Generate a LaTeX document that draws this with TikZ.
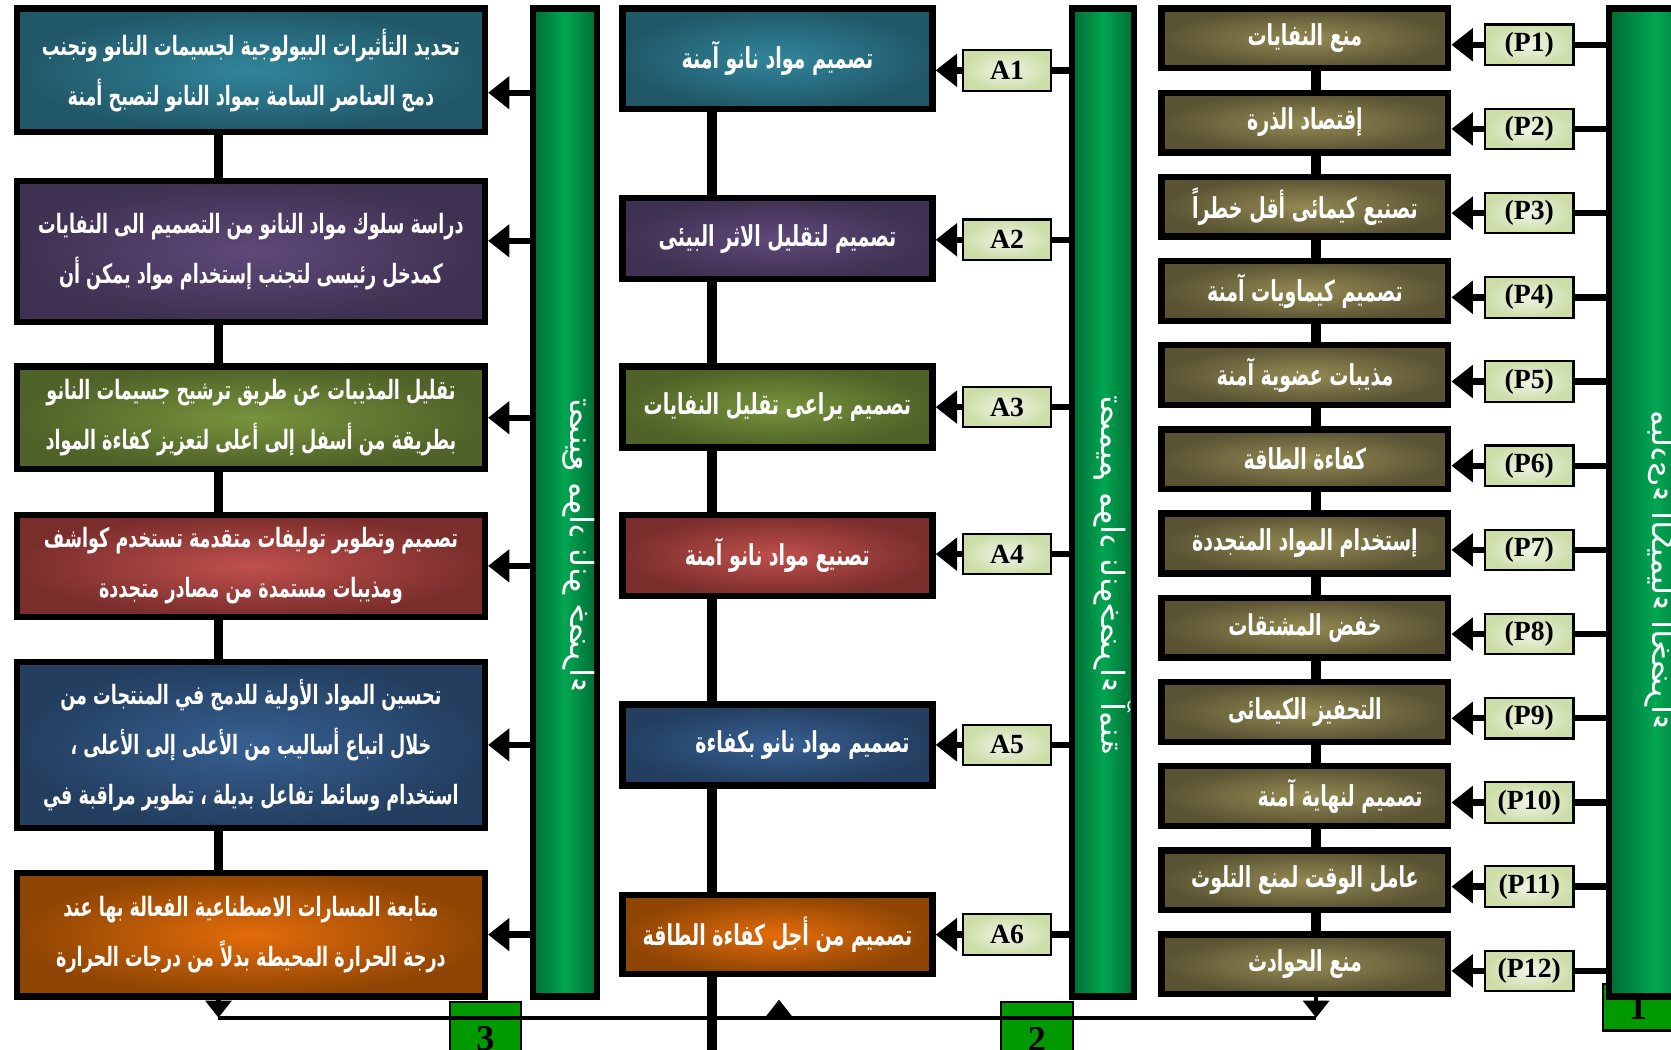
\documentclass[tikz,border=0pt]{standalone}
\usepackage{fontspec}
\setmainfont{Liberation Serif}
\newfontfamily\arfont[Script=Arabic,FakeStretch=0.66]{DejaVu Sans}
\newfontfamily\arbarfont[Script=Arabic]{DejaVu Sans}
\TeXXeTstate=1
\usetikzlibrary{arrows.meta,calc}
\definecolor{tealin}{HTML}{31859C}
\definecolor{tealout}{HTML}{215868}
\definecolor{purpin}{HTML}{5F497A}
\definecolor{purpout}{HTML}{3F3151}
\definecolor{olivin}{HTML}{77933C}
\definecolor{olivout}{HTML}{4F6228}
\definecolor{redin}{HTML}{C0504D}
\definecolor{redout}{HTML}{7A2E2C}
\definecolor{bluein}{HTML}{376092}
\definecolor{blueout}{HTML}{233E5F}
\definecolor{orin}{HTML}{E46C0A}
\definecolor{orout}{HTML}{8E4503}
\definecolor{tanin}{HTML}{948A54}
\definecolor{tanout}{HTML}{5A5333}
\definecolor{bardark}{HTML}{006B33}
\definecolor{barlight}{HTML}{00A651}
\definecolor{labin}{HTML}{F0F5E6}
\definecolor{labout}{HTML}{CCDDA8}
\definecolor{numgreen}{HTML}{009A00}
\tikzset{every picture/.style={x=0.5pt,y=-0.5pt}}
\tikzset{box/.style={draw=black,line width=3pt,text=white,align=center,inner sep=0pt,font=\arfont\bfseries\fontsize{12.5}{23.5}\selectfont}}
\tikzset{lbox/.style={box,minimum width=219.5pt}}
\tikzset{mbox/.style={box,minimum width=145.5pt,font=\arfont\bfseries\fontsize{13.5}{23.5}\selectfont}}
\tikzset{pbox/.style={box,minimum width=134.5pt,minimum height=28pt,inner color=tanin,outer color=tanout,font=\arfont\bfseries\fontsize{13.5}{23.5}\selectfont}}
\tikzset{lab/.style={draw=black,line width=1pt,minimum width=41.5pt,minimum height=19pt,inner sep=0pt,inner color=labin,outer color=labout,font=\bfseries\fontsize{13}{13}\selectfont}}
\tikzset{bar/.style={draw=black,line width=3pt,minimum height=463.5pt,left color=bardark,right color=bardark,middle color=barlight}}
\tikzset{bartxt/.style={text=white,rotate=90,yscale=-1,font=\arbarfont\fontsize{15}{15}\selectfont}}
\tikzset{num/.style={draw=black,line width=1pt,fill=numgreen,inner sep=0pt,font=\bfseries\fontsize{17}{17}\selectfont}}
\tikzset{arr/.style={line width=3pt,-{Triangle[length=10pt,width=15pt]}}}
\tikzset{link/.style={line width=4.5pt}}
\tikzset{feed/.style={line width=3pt}}
\tikzset{bot/.style={line width=2pt}}
\tikzset{tip/.style={line width=2pt,-{Triangle[length=8pt,width=12pt]}}}

\begin{document}
\begin{tikzpicture}
\useasboundingbox (0,0) rectangle (1568,985);
\clip (0,0) rectangle (1568,985);

\coordinate (lspine) at (205,0);
\coordinate (mspine) at (668,0);
\coordinate (pspine) at (1235,0);
\coordinate (mbottom) at (668,995);
\coordinate (lcorner) at (205,955);
\coordinate (pcorner) at (1235,955);
\coordinate (upfoot) at (731,955);

\node [num,minimum width=33.5pt,minimum height=35pt] (n3) at (455.5,975) {3};
\node [num,minimum width=33.5pt,minimum height=35pt] (n2) at (973,975) {2};
\node [num,minimum width=33pt,minimum height=22pt] (n1) at (1537,945) {1};

\node [bar,minimum width=30pt] (lbar) at (530,471.5) {};
\node [bar,minimum width=29pt] (mbar) at (1035,471.5) {};
\node [bar,minimum width=43pt] (rbar) at (1553,471.5) {};
\node [bartxt] (lbartxt) at (543,512) {\beginR تصنيع مواد نانو خضراء\endR};
\node [bartxt] (mbartxt) at (1044,540) {\beginR تصميم مواد نانوخضراء آمنة\endR};
\node [bartxt] (rbartxt) at (1558,535) {\beginR مبادىء الكيمياء الخضراء\endR};

\node [lbox,minimum height=58pt,inner color=tealin,outer color=tealout] (l1) at (235.5,66) {\beginR تحديد التأثيرات البيولوجية لجسيمات النانو وتجنب\endR\\ \beginR دمج العناصر السامة بمواد النانو لتصبح أمنة\endR};
\node [lbox,minimum height=66pt,inner color=purpin,outer color=purpout] (l2) at (235.5,236) {\beginR دراسة سلوك مواد النانو من التصميم الى النفايات\endR\\ \beginR كمدخل رئيسى لتجنب إستخدام مواد يمكن أن\endR};
\node [lbox,minimum height=48pt,inner color=olivin,outer color=olivout] (l3) at (235.5,392) {\beginR تقليل المذيبات عن طريق ترشيح جسيمات النانو\endR\\ \beginR بطريقة من أسفل إلى أعلى لتعزيز كفاءة المواد\endR};
\node [lbox,minimum height=48pt,inner color=redin,outer color=redout] (l4) at (235.5,531) {\beginR تصميم وتطوير توليفات متقدمة تستخدم كواشف\endR\\ \beginR ومذيبات مستمدة من مصادر متجددة\endR};
\node [lbox,minimum height=78pt,inner color=bluein,outer color=blueout] (l5) at (235.5,699) {\beginR تحسين المواد الأولية للدمج في المنتجات من\endR\\ \beginR خلال اتباع أساليب من الأعلى إلى الأعلى ،\endR\\ \beginR استخدام وسائط تفاعل بديلة ، تطوير مراقبة في\endR};
\node [lbox,minimum height=58pt,inner color=orin,outer color=orout] (l6) at (235.5,877) {\beginR متابعة المسارات الاصطناعية الفعالة بها عند\endR\\ \beginR درجة الحرارة المحيطة بدلاً من درجات الحرارة\endR};

\draw [link] (l1.south -| lspine) -- (l2.north -| lspine);
\draw [link] (l2.south -| lspine) -- (l3.north -| lspine);
\draw [link] (l3.south -| lspine) -- (l4.north -| lspine);
\draw [link] (l4.south -| lspine) -- (l5.north -| lspine);
\draw [link] (l5.south -| lspine) -- (l6.north -| lspine);

\draw [arr] ($(lbar.west |- l1.east)+(0,21)$) -- ($(l1.east)+(0,21)$);
\draw [arr] ($(lbar.west |- l2.east)+(0,-10)$) -- ($(l2.east)+(0,-10)$);
\draw [arr] (lbar.west |- l3.east) -- (l3.east);
\draw [arr] (lbar.west |- l4.east) -- (l4.east);
\draw [arr] (lbar.west |- l5.east) -- (l5.east);
\draw [arr] (lbar.west |- l6.east) -- (l6.east);

\node [mbox,minimum height=47pt,inner color=tealin,outer color=tealout] (m1) at (729.5,55) {\beginR تصميم مواد نانو آمنة\endR};
\node [mbox,minimum height=38pt,inner color=purpin,outer color=purpout] (m2) at (729.5,224) {\beginR تصميم لتقليل الاثر البيئى\endR};
\node [mbox,minimum height=38pt,inner color=olivin,outer color=olivout] (m3) at (729.5,382) {\beginR تصميم يراعى تقليل النفايات\endR};
\node [mbox,minimum height=38pt,inner color=redin,outer color=redout] (m4) at (729.5,521) {\beginR تصنيع مواد نانو آمنة\endR};
\node [mbox,minimum height=38pt,inner color=bluein,outer color=blueout] (m5) at (729.5,699) {\hspace*{23.5pt}\beginR تصميم مواد نانو بكفاءة\endR};
\node [mbox,minimum height=37pt,inner color=orin,outer color=orout] (m6) at (729.5,877) {\beginR تصميم من أجل كفاءة الطاقة\endR};

\draw [link] (m1.south -| mspine) -- (m2.north -| mspine);
\draw [link] (m2.south -| mspine) -- (m3.north -| mspine);
\draw [link] (m3.south -| mspine) -- (m4.north -| mspine);
\draw [link] (m4.south -| mspine) -- (m5.north -| mspine);
\draw [link] (m5.south -| mspine) -- (m6.north -| mspine);
\draw [link] (m6.south -| mspine) -- (mbottom);

\node [lab] (a1) at (945,66) {A1};
\node [lab] (a2) at (945,225) {A2};
\node [lab] (a3) at (945,382) {A3};
\node [lab] (a4) at (945,520) {A4};
\node [lab] (a5) at (945,699) {A5};
\node [lab] (a6) at (945,877) {A6};
\draw [arr] (a1.west) -- (a1.west -| m1.east);
\draw [arr] (a2.west) -- (a2.west -| m2.east);
\draw [arr] (a3.west) -- (a3.west -| m3.east);
\draw [arr] (a4.west) -- (a4.west -| m4.east);
\draw [arr] (a5.west) -- (a5.west -| m5.east);
\draw [arr] (a6.west) -- (a6.west -| m6.east);
\draw [feed] (mbar.west |- a1.east) -- (a1.east);
\draw [feed] (mbar.west |- a2.east) -- (a2.east);
\draw [feed] (mbar.west |- a3.east) -- (a3.east);
\draw [feed] (mbar.west |- a4.east) -- (a4.east);
\draw [feed] (mbar.west |- a5.east) -- (a5.east);
\draw [feed] (mbar.west |- a6.east) -- (a6.east);

\node [pbox] (p1) at (1224.5,36) {\beginR منع النفايات\endR};
\node [pbox] (p2) at (1224.5,115) {\beginR إقتصاد الذرة\endR};
\node [pbox] (p3) at (1224.5,194) {\beginR تصنيع كيمائى أقل خطراً\endR};
\node [pbox] (p4) at (1224.5,273) {\beginR تصميم كيماويات آمنة\endR};
\node [pbox] (p5) at (1224.5,352) {\beginR مذيبات عضوية آمنة\endR};
\node [pbox] (p6) at (1224.5,431) {\beginR كفاءة الطاقة\endR};
\node [pbox] (p7) at (1224.5,510) {\beginR إستخدام المواد المتجددة\endR};
\node [pbox] (p8) at (1224.5,589) {\beginR خفض المشتقات\endR};
\node [pbox] (p9) at (1224.5,668) {\beginR التحفيز الكيمائى\endR};
\node [pbox] (p10) at (1224.5,747) {\hspace*{33pt}\beginR تصميم لنهاية آمنة\endR};
\node [pbox] (p11) at (1224.5,826) {\beginR عامل الوقت لمنع التلوث\endR};
\node [pbox] (p12) at (1224.5,905) {\beginR منع الحوادث\endR};

\draw [link] (p1.south -| pspine) -- (p2.north -| pspine);
\draw [link] (p2.south -| pspine) -- (p3.north -| pspine);
\draw [link] (p3.south -| pspine) -- (p4.north -| pspine);
\draw [link] (p4.south -| pspine) -- (p5.north -| pspine);
\draw [link] (p5.south -| pspine) -- (p6.north -| pspine);
\draw [link] (p6.south -| pspine) -- (p7.north -| pspine);
\draw [link] (p7.south -| pspine) -- (p8.north -| pspine);
\draw [link] (p8.south -| pspine) -- (p9.north -| pspine);
\draw [link] (p9.south -| pspine) -- (p10.north -| pspine);
\draw [link] (p10.south -| pspine) -- (p11.north -| pspine);
\draw [link] (p11.south -| pspine) -- (p12.north -| pspine);

\node [lab] (q1) at (1435,42) {(P1)};
\node [lab] (q2) at (1435,121) {(P2)};
\node [lab] (q3) at (1435,200) {(P3)};
\node [lab] (q4) at (1435,279) {(P4)};
\node [lab] (q5) at (1435,358) {(P5)};
\node [lab] (q6) at (1435,437) {(P6)};
\node [lab] (q7) at (1435,516) {(P7)};
\node [lab] (q8) at (1435,595) {(P8)};
\node [lab] (q9) at (1435,674) {(P9)};
\node [lab] (q10) at (1435,753) {(P10)};
\node [lab] (q11) at (1435,832) {(P11)};
\node [lab] (q12) at (1435,911) {(P12)};
\draw [arr] (q1.west) -- (q1.west -| p1.east);
\draw [arr] (q2.west) -- (q2.west -| p2.east);
\draw [arr] (q3.west) -- (q3.west -| p3.east);
\draw [arr] (q4.west) -- (q4.west -| p4.east);
\draw [arr] (q5.west) -- (q5.west -| p5.east);
\draw [arr] (q6.west) -- (q6.west -| p6.east);
\draw [arr] (q7.west) -- (q7.west -| p7.east);
\draw [arr] (q8.west) -- (q8.west -| p8.east);
\draw [arr] (q9.west) -- (q9.west -| p9.east);
\draw [arr] (q10.west) -- (q10.west -| p10.east);
\draw [arr] (q11.west) -- (q11.west -| p11.east);
\draw [arr] (q12.west) -- (q12.west -| p12.east);
\draw [feed] (rbar.west |- q1.east) -- (q1.east);
\draw [feed] (rbar.west |- q2.east) -- (q2.east);
\draw [feed] (rbar.west |- q3.east) -- (q3.east);
\draw [feed] (rbar.west |- q4.east) -- (q4.east);
\draw [feed] (rbar.west |- q5.east) -- (q5.east);
\draw [feed] (rbar.west |- q6.east) -- (q6.east);
\draw [feed] (rbar.west |- q7.east) -- (q7.east);
\draw [feed] (rbar.west |- q8.east) -- (q8.east);
\draw [feed] (rbar.west |- q9.east) -- (q9.east);
\draw [feed] (rbar.west |- q10.east) -- (q10.east);
\draw [feed] (rbar.west |- q11.east) -- (q11.east);
\draw [feed] (rbar.west |- q12.east) -- (q12.east);

\draw [bot] (lcorner) -- (pcorner);
\draw [tip] (l6.south -| lcorner) -- (lcorner);
\draw [tip] (p12.south -| pcorner) -- (pcorner);
\draw [tip] (upfoot) -- ++(0,-17);
\end{tikzpicture}
\end{document}
